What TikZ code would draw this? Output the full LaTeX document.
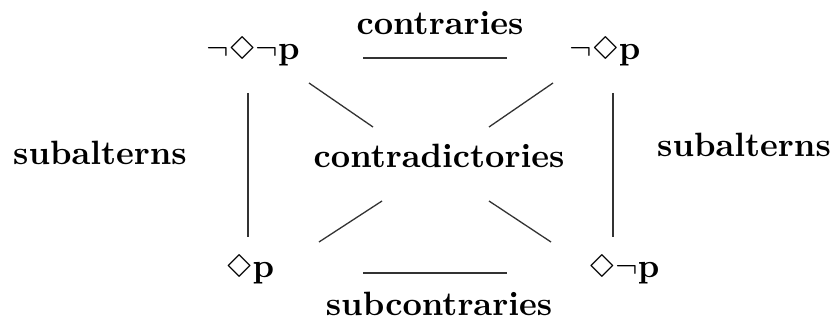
\documentclass[tikz,border=0pt]{standalone}
\usepackage{latexsym}
\newcommand{\bigtxt}[1]{\scalebox{3.37}{\bfseries #1}}
\tikzset{
  lbl/.style={anchor=base, inner sep=0pt},
  edge/.style={line width=1.3pt, draw=black!80}
}
\begin{document}
\begin{tikzpicture}[x=1pt,y=-1pt]
\useasboundingbox (0,0) rectangle (833,323);
% corner propositions
\node[lbl] (nn) at (253,60) {\bigtxt{$\neg\Diamond\neg\mathbf{p}$}};
\node[lbl] (np) at (605,60) {\bigtxt{$\neg\Diamond\mathbf{p}$}};
\node[lbl] (dp) at (250,277) {\bigtxt{$\Diamond\mathbf{p}$}};
\node[lbl] (dn) at (624,277) {\bigtxt{$\Diamond\neg\mathbf{p}$}};
% relation labels
\node[lbl] (contr) at (440,35) {\bigtxt{contraries}};
\node[lbl] (contd) at (439,168) {\bigtxt{contradictories}};
\node[lbl] (subl) at (100,165) {\bigtxt{subalterns}};
\node[lbl] (subr) at (744,157) {\bigtxt{subalterns}};
\node[lbl] (subc) at (439,316) {\bigtxt{subcontraries}};
% line end points
\coordinate (t1) at (363,58); \coordinate (t2) at (507,58);
\coordinate (b1) at (363,273); \coordinate (b2) at (507,273);
\coordinate (l1) at (248,93); \coordinate (l2) at (248,237);
\coordinate (r1) at (613,93); \coordinate (r2) at (613,237);
\coordinate (d1) at (309,83); \coordinate (d2) at (373,127);
\coordinate (e1) at (553,83); \coordinate (e2) at (489,127);
\coordinate (f1) at (382,201); \coordinate (f2) at (319,242);
\coordinate (g1) at (489,201); \coordinate (g2) at (551,242);
\draw[edge] (t1) -- (t2);
\draw[edge] (b1) -- (b2);
\draw[edge] (l1) -- (l2);
\draw[edge] (r1) -- (r2);
\draw[edge] (d1) -- (d2);
\draw[edge] (e1) -- (e2);
\draw[edge] (f1) -- (f2);
\draw[edge] (g1) -- (g2);
\end{tikzpicture}
\end{document}
